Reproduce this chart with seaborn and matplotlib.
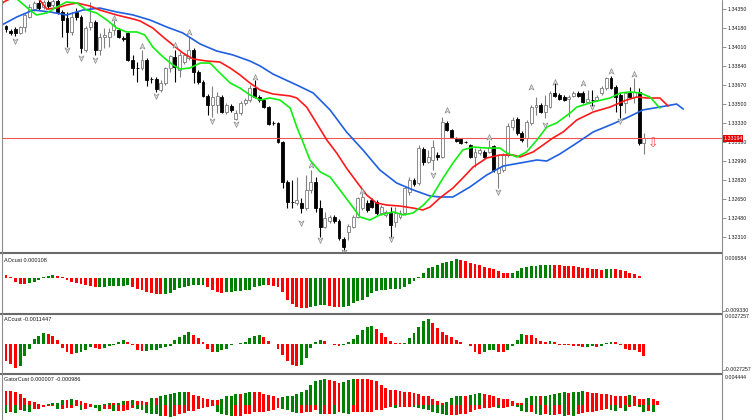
import numpy as np
import matplotlib
matplotlib.use("Agg")
import matplotlib.pyplot as plt
import matplotlib.transforms as mtransforms
from matplotlib.lines import Line2D
from matplotlib.path import Path
import seaborn as sns

sns.set_style("white")
plt.rcParams['font.family'] = ['Liberation Sans', 'DejaVu Sans']

# ---------------- price candles (bar index 0..136) ----------------
open_ = [
1.34197, 1.34153, 1.34170, 1.34135, 1.34188, 1.34278, 1.34349, 1.34403, 1.34367, 1.34412,
1.34385, 1.34421, 1.34323, 1.34269, 1.34144, 1.34323, 1.34278, 1.33983, 1.34188, 1.34233,
1.33983, 1.34099, 1.34099, 1.34162, 1.34162, 1.34090, 1.34135, 1.33893, 1.33821, 1.33821,
1.33893, 1.33723, 1.33723, 1.33624, 1.33687, 1.33821, 1.33920, 1.33804, 1.33875, 1.33911,
1.33983, 1.33786, 1.33696, 1.33571, 1.33490, 1.33490, 1.33562, 1.33428, 1.33481, 1.33365,
1.33419, 1.33508, 1.33535, 1.33642, 1.33562, 1.33535, 1.33472, 1.33329, 1.33329, 1.33159,
1.32801, 1.32622, 1.32613, 1.32613, 1.32568, 1.32730, 1.32801, 1.32568, 1.32398, 1.32452,
1.32488, 1.32452, 1.32291, 1.32354, 1.32398, 1.32488, 1.32568, 1.32613, 1.32640, 1.32622,
1.32524, 1.32506, 1.32524, 1.32443, 1.32488, 1.32524, 1.32712, 1.32819, 1.32792, 1.33096,
1.32980, 1.32998, 1.33043, 1.33025, 1.33329, 1.33267, 1.33186, 1.33186, 1.33159, 1.33132,
1.33025, 1.33061, 1.33070, 1.33070, 1.33123, 1.32882, 1.32909, 1.33043, 1.33293, 1.33365,
1.33240, 1.33195, 1.33329, 1.33472, 1.33490, 1.33428, 1.33472, 1.33598, 1.33580, 1.33562,
1.33544, 1.33571, 1.33598, 1.33598, 1.33517, 1.33535, 1.33535, 1.33598, 1.33642, 1.33732,
1.33651, 1.33580, 1.33508, 1.33598, 1.33562, 1.33607, 1.33150]
high = [
1.34206, 1.34170, 1.34188, 1.34197, 1.34314, 1.34394, 1.34421, 1.34430, 1.34430, 1.34430,
1.34448, 1.34448, 1.34340, 1.34323, 1.34323, 1.34358, 1.34296, 1.34197, 1.34412, 1.34251,
1.34135, 1.34179, 1.34179, 1.34251, 1.34179, 1.34108, 1.34144, 1.33938, 1.33875, 1.33983,
1.33911, 1.33741, 1.33741, 1.33714, 1.33830, 1.33938, 1.33983, 1.33965, 1.33956, 1.34099,
1.34000, 1.33804, 1.33714, 1.33589, 1.33660, 1.33607, 1.33580, 1.33508, 1.33499, 1.33446,
1.33526, 1.33553, 1.33669, 1.33714, 1.33580, 1.33544, 1.33481, 1.33347, 1.33338, 1.33168,
1.32819, 1.32819, 1.32846, 1.32658, 1.32864, 1.32909, 1.32846, 1.32640, 1.32533, 1.32506,
1.32506, 1.32470, 1.32309, 1.32425, 1.32506, 1.32667, 1.32703, 1.32640, 1.32658, 1.32640,
1.32595, 1.32551, 1.32577, 1.32577, 1.32551, 1.32765, 1.32846, 1.32837, 1.33132, 1.33114,
1.33088, 1.33177, 1.33070, 1.33383, 1.33347, 1.33275, 1.33204, 1.33195, 1.33168, 1.33141,
1.33105, 1.33105, 1.33088, 1.33177, 1.33132, 1.33043, 1.33061, 1.33329, 1.33383, 1.33383,
1.33258, 1.33356, 1.33490, 1.33562, 1.33508, 1.33580, 1.33616, 1.33696, 1.33598, 1.33580,
1.33580, 1.33616, 1.33616, 1.33616, 1.33624, 1.33624, 1.33580, 1.33660, 1.33741, 1.33750,
1.33669, 1.33598, 1.33607, 1.33651, 1.33732, 1.33642, 1.33240]
low = [
1.34144, 1.34117, 1.34108, 1.34126, 1.34144, 1.34269, 1.34332, 1.34340, 1.34349, 1.34349,
1.34367, 1.34305, 1.34099, 1.34009, 1.34117, 1.34251, 1.33956, 1.33965, 1.34162, 1.33938,
1.33938, 1.34000, 1.34009, 1.34117, 1.34090, 1.34063, 1.33884, 1.33759, 1.33696, 1.33804,
1.33660, 1.33687, 1.33607, 1.33607, 1.33669, 1.33786, 1.33696, 1.33741, 1.33857, 1.33893,
1.33687, 1.33678, 1.33562, 1.33401, 1.33383, 1.33419, 1.33419, 1.33410, 1.33428, 1.33356,
1.33401, 1.33490, 1.33517, 1.33553, 1.33517, 1.33463, 1.33311, 1.33311, 1.33150, 1.32747,
1.32568, 1.32568, 1.32595, 1.32524, 1.32551, 1.32703, 1.32533, 1.32309, 1.32389, 1.32434,
1.32434, 1.32282, 1.32193, 1.32282, 1.32389, 1.32479, 1.32551, 1.32533, 1.32568, 1.32506,
1.32506, 1.32488, 1.32309, 1.32398, 1.32470, 1.32506, 1.32685, 1.32765, 1.32774, 1.32953,
1.32971, 1.32909, 1.32998, 1.33016, 1.33258, 1.33195, 1.33159, 1.33141, 1.33150, 1.33016,
1.32935, 1.33043, 1.33016, 1.33061, 1.32891, 1.32747, 1.32891, 1.33025, 1.33267, 1.33222,
1.33159, 1.33114, 1.33311, 1.33401, 1.33419, 1.33374, 1.33463, 1.33562, 1.33535, 1.33526,
1.33383, 1.33562, 1.33562, 1.33508, 1.33508, 1.33463, 1.33526, 1.33580, 1.33624, 1.33633,
1.33428, 1.33374, 1.33419, 1.33553, 1.33508, 1.33132, 1.33052]
close = [
1.34170, 1.34135, 1.34135, 1.34188, 1.34296, 1.34367, 1.34403, 1.34358, 1.34412, 1.34376,
1.34421, 1.34323, 1.34251, 1.34144, 1.34278, 1.34278, 1.34000, 1.34179, 1.34233, 1.33983,
1.34099, 1.34117, 1.34144, 1.34206, 1.34099, 1.34081, 1.33893, 1.33821, 1.33817, 1.33893,
1.33714, 1.33719, 1.33633, 1.33687, 1.33821, 1.33929, 1.33830, 1.33938, 1.33938, 1.33983,
1.33786, 1.33696, 1.33571, 1.33490, 1.33562, 1.33571, 1.33428, 1.33490, 1.33446, 1.33419,
1.33508, 1.33535, 1.33642, 1.33562, 1.33535, 1.33472, 1.33320, 1.33325, 1.33159, 1.32801,
1.32622, 1.32618, 1.32640, 1.32568, 1.32730, 1.32801, 1.32568, 1.32398, 1.32479, 1.32488,
1.32452, 1.32300, 1.32219, 1.32407, 1.32488, 1.32658, 1.32667, 1.32551, 1.32577, 1.32524,
1.32577, 1.32533, 1.32416, 1.32524, 1.32524, 1.32747, 1.32819, 1.32783, 1.33105, 1.32980,
1.33025, 1.33114, 1.33025, 1.33338, 1.33267, 1.33204, 1.33168, 1.33150, 1.33155, 1.33025,
1.33070, 1.33088, 1.33025, 1.33114, 1.32909, 1.32926, 1.33043, 1.33302, 1.33356, 1.33240,
1.33177, 1.33338, 1.33472, 1.33490, 1.33428, 1.33490, 1.33598, 1.33571, 1.33544, 1.33535,
1.33562, 1.33598, 1.33571, 1.33517, 1.33544, 1.33531, 1.33562, 1.33642, 1.33732, 1.33642,
1.33562, 1.33490, 1.33598, 1.33562, 1.33607, 1.33150, 1.33194]

bid_price = 1.33194
price_ticks = [1.34350, 1.34180, 1.34010, 1.33840, 1.33670, 1.33500, 1.33330,
               1.33160, 1.32990, 1.32820, 1.32650, 1.32480, 1.32310]

# ---------------- Alligator lines (bar index, price) ----------------
jaw_x = [-0.9, 2.3, 5.8, 9.4, 12.9, 16.4, 20.0, 23.6, 27.1, 30.7, 34.3, 37.7, 41.4, 44.9, 48.4,
         52.0, 54.2, 56.9, 60.6, 62.0, 65.5, 69.1, 72.6, 76.1, 79.7, 83.3, 86.8, 90.4, 92.5, 95.3,
         98.9, 102.5, 106.0, 109.6, 113.2, 115.3, 118.1, 121.7, 125.2, 128.8, 132.3, 135.8, 139.4,
         143.0, 144.4]
jaw_y = [1.34206, 1.34278, 1.34340, 1.34323, 1.34296, 1.34340, 1.34358, 1.34323, 1.34296, 1.34251,
         1.34188, 1.34135, 1.34036, 1.33974, 1.33938, 1.33884, 1.33839, 1.33768, 1.33696, 1.33669,
         1.33598, 1.33446, 1.33249, 1.33088, 1.32909, 1.32792, 1.32730, 1.32676, 1.32667, 1.32667,
         1.32756, 1.32864, 1.32944, 1.32971, 1.32998, 1.32989, 1.33052, 1.33150, 1.33249, 1.33311,
         1.33374, 1.33446, 1.33472, 1.33499, 1.33454]
teeth_x = [-0.9, -0.5, 3.0, 5.5, 7.2, 8.7, 10.8, 12.9, 15.1, 17.9, 20.0, 23.6, 27.1, 28.6, 31.3,
           33.5, 35.6, 37.7, 39.9, 42.8, 45.6, 47.8, 49.9, 52.0, 54.2, 56.9, 60.6, 62.0, 64.1, 66.2,
           68.4, 70.5, 72.6, 74.8, 76.9, 79.0, 81.2, 84.0, 86.8, 88.9, 90.4, 92.5, 95.3, 97.4, 99.6,
           102.5, 105.3, 108.1, 109.6, 112.4, 114.5, 116.6, 118.8, 121.7, 125.2, 128.8, 132.3, 134.5,
           136.6, 139.4, 141.2]
teeth_y = [1.34394, 1.34412, 1.34484, 1.34484, 1.34430, 1.34349, 1.34358, 1.34385, 1.34403, 1.34376,
           1.34340, 1.34296, 1.34260, 1.34242, 1.34179, 1.34099, 1.34027, 1.33956, 1.33902, 1.33884,
           1.33875, 1.33821, 1.33759, 1.33687, 1.33624, 1.33589, 1.33571, 1.33553, 1.33472, 1.33329,
           1.33177, 1.33061, 1.32926, 1.32801, 1.32685, 1.32613, 1.32595, 1.32586, 1.32568, 1.32551,
           1.32577, 1.32658, 1.32747, 1.32837, 1.32935, 1.33016, 1.33043, 1.33043, 1.33025, 1.33070,
           1.33132, 1.33195, 1.33249, 1.33356, 1.33428, 1.33472, 1.33535, 1.33562, 1.33553, 1.33553,
           1.33481]
lips_x = [-0.6, 0.9, 2.6, 5.1, 6.5, 8.7, 10.8, 12.9, 15.1, 17.2, 19.3, 21.5, 23.6, 25.7, 27.9,
          29.6, 31.3, 33.5, 35.6, 37.1, 39.2, 41.4, 43.5, 45.6, 47.8, 49.9, 52.0, 54.2, 56.3, 58.4,
          60.6, 62.0, 63.4, 64.8, 67.0, 69.1, 71.2, 73.3, 75.5, 77.6, 79.7, 82.6, 84.7, 86.8, 89.0,
          91.0, 93.2, 95.3, 97.4, 99.6, 102.5, 105.3, 106.8, 108.9, 111.0, 113.2, 115.3, 117.4, 120.3,
          121.7, 125.2, 128.8, 131.0, 133.0, 135.2, 137.3, 139.4]
lips_y = [1.34537, 1.34484, 1.34430, 1.34340, 1.34296, 1.34314, 1.34367, 1.34412, 1.34403, 1.34340,
          1.34314, 1.34251, 1.34179, 1.34144, 1.34144, 1.34117, 1.34009, 1.33920, 1.33848, 1.33812,
          1.33821, 1.33866, 1.33866, 1.33777, 1.33687, 1.33642, 1.33580, 1.33535, 1.33553, 1.33535,
          1.33463, 1.33293, 1.33150, 1.32998, 1.32891, 1.32846, 1.32730, 1.32613, 1.32488, 1.32461,
          1.32506, 1.32533, 1.32506, 1.32524, 1.32595, 1.32685, 1.32837, 1.32971, 1.33088, 1.33114,
          1.33105, 1.33105, 1.33061, 1.33025, 1.33070, 1.33177, 1.33293, 1.33329, 1.33419, 1.33472,
          1.33517, 1.33553, 1.33598, 1.33607, 1.33598, 1.33562, 1.33463]

# ---------------- fractals ----------------
frac_up_idx = [23, 29, 36, 39, 53, 65, 76, 94, 103, 112, 117, 123, 129, 134]
frac_up_px = [1.34269, 1.34018, 1.34027, 1.34144, 1.33741, 1.32953, 1.32721, 1.33446, 1.33204,
              1.33651, 1.33696, 1.33687, 1.33795, 1.33768]
frac_dn_idx = [2, 13, 16, 19, 32, 44, 49, 63, 67, 72, 82, 91, 105, 115, 125, 131]
frac_dn_px = [1.34063, 1.33983, 1.33911, 1.33893, 1.33571, 1.33347, 1.33320, 1.32434, 1.32282,
              1.32175, 1.32291, 1.32864, 1.32712, 1.33311, 1.33472, 1.33347]
signal_idx = 138
signal_px = 1.33141

# ---------------- oscillators (bar index -1..136) ----------------
ao = [0.00279, 0.00093, 0.00047, -0.00093, -0.00140, -0.00149, -0.00121, -0.00093, -0.00028, 0.00047,
      0.00065, 0.00093, 0.00074, 0.00047, -0.00047, -0.00093, -0.00112, -0.00140, -0.00167, -0.00195,
      -0.00242, -0.00233, -0.00223, -0.00214, -0.00209, -0.00205, -0.00195, -0.00191, -0.00233, -0.00279,
      -0.00326, -0.00372, -0.00400, -0.00419, -0.00428, -0.00419, -0.00400, -0.00326, -0.00260, -0.00223,
      -0.00195, -0.00186, -0.00181, -0.00177, -0.00233, -0.00307, -0.00363, -0.00400, -0.00372, -0.00363,
      -0.00344, -0.00330, -0.00321, -0.00307, -0.00233, -0.00214, -0.00186, -0.00191, -0.00214, -0.00233,
      -0.00372, -0.00586, -0.00698, -0.00791, -0.00809, -0.00814, -0.00772, -0.00744, -0.00739, -0.00735,
      -0.00763, -0.00772, -0.00791, -0.00781, -0.00744, -0.00679, -0.00623, -0.00586, -0.00512, -0.00400,
      -0.00344, -0.00326, -0.00307, -0.00298, -0.00288, -0.00279, -0.00233, -0.00140, -0.00065, 0.00047,
      0.00158, 0.00279, 0.00326, 0.00372, 0.00419, 0.00465, 0.00493, 0.00530, 0.00512, 0.00474,
      0.00437, 0.00400, 0.00363, 0.00326, 0.00288, 0.00251, 0.00195, 0.00158, 0.00140, 0.00158,
      0.00214, 0.00279, 0.00307, 0.00344, 0.00353, 0.00363, 0.00372, 0.00377, 0.00372, 0.00363,
      0.00353, 0.00344, 0.00339, 0.00307, 0.00298, 0.00279, 0.00260, 0.00251, 0.00246, 0.00260,
      0.00265, 0.00251, 0.00233, 0.00205, 0.00158, 0.00121, 0.00074, 0.00011]
ac = [-0.00134, -0.00160, -0.00191, -0.00230, -0.00207, -0.00121, -0.00048, 0.00038, 0.00070, 0.00096,
      0.00089, 0.00070, 0.00032, -0.00038, -0.00080, -0.00102, -0.00089, -0.00080, -0.00064, -0.00032,
      -0.00038, -0.00048, -0.00038, -0.00026, -0.00010, 0.00016, 0.00032, 0.00016, -0.00016, -0.00057,
      -0.00070, -0.00067, -0.00064, -0.00057, -0.00038, -0.00032, -0.00026, 0.00032, 0.00057, 0.00080,
      0.00112, 0.00080, 0.00048, 0.00016, -0.00048, -0.00080, -0.00077, -0.00064, -0.00048, -0.00016,
      -0.00006, 0.00006, 0.00016, 0.00048, 0.00070, 0.00080, 0.00057, 0.00026, -0.00006, -0.00048,
      -0.00112, -0.00160, -0.00198, -0.00211, -0.00204, -0.00134, -0.00038, 0.00016, 0.00032, 0.00026,
      0.0, -0.00016, -0.00026, -0.00016, 0.00016, 0.00038, 0.00080, 0.00128, 0.00153, 0.00160,
      0.00134, 0.00102, 0.00057, 0.00026, 0.00006, 0.00002, 0.00006, 0.00048, 0.00096, 0.00153,
      0.00207, 0.00230, 0.00191, 0.00144, 0.00112, 0.00080, 0.00057, 0.00032, 0.00016, -0.00006,
      -0.00026, -0.00080, -0.00096, -0.00080, -0.00064, -0.00061, -0.00080, -0.00083, -0.00057, -0.00022,
      0.00032, 0.00086, 0.00080, 0.00077, 0.00048, 0.00026, 0.00010, 0.00019, 0.00010, -0.00010,
      -0.00016, -0.00018, -0.00019, -0.00026, -0.00032, -0.00029, -0.00027, -0.00032, -0.00022, 0.00006,
      0.00013, 0.00010, -0.00010, -0.00048, -0.00057, -0.00064, -0.00080, -0.00114]
# gator (bar index -1..140): upper |jaw-teeth|, lower |teeth-lips|
gator_up = [
0.00217, 0.00207, 0.00207, 0.00193, 0.00158, 0.00109, 0.00059, 0.00044, 0.00015, 0.00005, 0.00010,
0.00025, 0.00035, 0.00074, 0.00074, 0.00084, 0.00074, 0.00059, 0.00025, 0.00010, 0.00002,
0.00005, 0.00010, 0.00025, 0.00025, 0.00030, 0.00059, 0.00059, 0.00074, 0.00059, 0.00059,
0.00049, 0.00109, 0.00109, 0.00133, 0.00148, 0.00158, 0.00173, 0.00183, 0.00193, 0.00183,
0.00143, 0.00124, 0.00109, 0.00094, 0.00074, 0.00069, 0.00084, 0.00124, 0.00133, 0.00158,
0.00158, 0.00168, 0.00183, 0.00183, 0.00183, 0.00163, 0.00148, 0.00124, 0.00109, 0.00114,
0.00124, 0.00138, 0.00158, 0.00183, 0.00222, 0.00296, 0.00346, 0.00371, 0.00380, 0.00371,
0.00346, 0.00321, 0.00336, 0.00371, 0.00380, 0.00380, 0.00380, 0.00380, 0.00371, 0.00346,
0.00296, 0.00247, 0.00222, 0.00212, 0.00198, 0.00183, 0.00183, 0.00173, 0.00163, 0.00138,
0.00124, 0.00089, 0.00059, 0.00035, 0.00049, 0.00099, 0.00124, 0.00133, 0.00124, 0.00148,
0.00163, 0.00173, 0.00158, 0.00148, 0.00138, 0.00109, 0.00089, 0.00089, 0.00064, 0.00035,
0.00025, 0.00099, 0.00124, 0.00133, 0.00124, 0.00138, 0.00148, 0.00163, 0.00173, 0.00183,
0.00173, 0.00183, 0.00188, 0.00198, 0.00183, 0.00173, 0.00173, 0.00163, 0.00158, 0.00148,
0.00138, 0.00138, 0.00138, 0.00148, 0.00124, 0.00084, 0.00084, 0.00099, 0.00089, 0.00059, 0.000007]
gator_dn = [
0.00109, 0.00114, 0.00104, 0.00114, 0.00074, 0.00089, 0.00099, 0.00064, 0.00059, 0.00025, 0.00015,
0.00010, 0.00064, 0.00054, 0.00040, 0.00040, 0.00015, 0.00074, 0.00054, 0.00030, 0.00040,
0.00089, 0.00064, 0.00064, 0.00089, 0.00089, 0.00089, 0.00074, 0.00049, 0.00064, 0.00079,
0.00114, 0.00128, 0.00138, 0.00163, 0.00163, 0.00178, 0.00163, 0.00138, 0.00114, 0.00089,
0.00089, 0.00064, 0.00040, 0.00025, 0.00015, 0.00099, 0.00124, 0.00148, 0.00153, 0.00153,
0.00153, 0.00138, 0.00138, 0.00099, 0.00099, 0.00099, 0.00089, 0.00074, 0.00049, 0.00059,
0.00074, 0.00099, 0.00114, 0.00114, 0.00099, 0.00099, 0.00074, 0.00124, 0.00124, 0.00124,
0.00133, 0.00099, 0.00114, 0.00124, 0.00109, 0.00099, 0.00099, 0.00099, 0.00099, 0.00074,
0.00074, 0.00049, 0.00035, 0.00049, 0.00035, 0.00025, 0.00025, 0.00035, 0.00049, 0.00064,
0.00074, 0.00099, 0.00114, 0.00133, 0.00148, 0.00148, 0.00148, 0.00124, 0.00124, 0.00099,
0.00074, 0.00064, 0.00049, 0.00049, 0.00025, 0.00049, 0.00040, 0.00025, 0.00015, 0.00025,
0.00084, 0.00099, 0.00099, 0.00124, 0.00148, 0.00124, 0.00148, 0.00148, 0.00124, 0.00163,
0.00148, 0.00158, 0.00124, 0.00114, 0.00099, 0.00099, 0.00089, 0.00074, 0.00064, 0.00074,
0.00089, 0.00049, 0.00084, 0.00025, 0.00015, 0.00025, 0.00099, 0.00089, 0.00099, 0.0, 0.0]

ao_label = "AOcust 0.000108"
ac_label = "ACcust -0.0011447"
gator_label = "GatorCust 0.000007 -0.000986"
ao_range = (-0.009330, 0.006584)
ac_range = (-0.0027257, 0.0027257)
gator_top = 0.004444

# ---------------- figure ----------------
W, H = 752, 420
fig = plt.figure(figsize=(W / 100, H / 100), dpi=100)
fig.patch.set_facecolor('white')
X_LEFT, X_RIGHT = 2, 722
BAR0, STEP = 6.0, 4.69
xlim = ((X_LEFT - BAR0) / STEP, (X_RIGHT - BAR0) / STEP)

def px_axes(top, bottom):
    a = fig.add_axes([X_LEFT / W, 1 - bottom / H, (X_RIGHT - X_LEFT) / W, (bottom - top) / H])
    a.set_facecolor('white')
    for s in a.spines.values():
        s.set_visible(False)
    a.set_xlim(*xlim)
    a.set_xticks([])
    a.set_yticks([])
    a.grid(False)
    return a

GREEN, RED = '#008000', '#ff0000'
TXT = '#1a1a1a'
FS_TICK = 3.8
FS_LAB = 4.0

# main chart
ax = px_axes(0, 253)
ax.set_ylim(1.34430 - 253 * 0.0000895, 1.34430)
o = np.array(open_); h = np.array(high); l = np.array(low); c = np.array(close)
idx = np.arange(len(c))
bull = c >= o
wick_col = np.where(bull, '#7f7f7f', '#000000')
ax.vlines(idx, l, h, colors=wick_col, linewidth=0.8, zorder=2)
body_lo = np.minimum(o, c)
body_h = np.maximum(np.abs(c - o), 0.00002)
ax.bar(idx, body_h, bottom=body_lo, width=0.62,
       color=np.where(bull, '#ffffff', '#000000'),
       edgecolor=np.where(bull, '#7a7a7a', '#000000'), linewidth=0.6, zorder=3)

ax.axhline(bid_price, color='#ee5555', linewidth=0.8, zorder=4)

sns.lineplot(x=jaw_x, y=jaw_y, ax=ax, color='#1f5fe0', linewidth=1.2, sort=False,
             estimator=None, zorder=5)
sns.lineplot(x=teeth_x, y=teeth_y, ax=ax, color='#ff1a1a', linewidth=1.2, sort=False,
             estimator=None, zorder=5)
sns.lineplot(x=lips_x, y=lips_y, ax=ax, color='#11ee11', linewidth=1.2, sort=False,
             estimator=None, zorder=6)

up_arrow = Path([(0, 1), (0.85, -0.9), (0, -0.35), (-0.85, -0.9), (0, 1)],
                [Path.MOVETO, Path.LINETO, Path.LINETO, Path.LINETO, Path.CLOSEPOLY])
dn_arrow = Path([(0, -1), (0.85, 0.9), (0, 0.35), (-0.85, 0.9), (0, -1)],
                [Path.MOVETO, Path.LINETO, Path.LINETO, Path.LINETO, Path.CLOSEPOLY])
sns.scatterplot(x=frac_up_idx, y=frac_up_px, ax=ax, marker=up_arrow, s=18,
                color='#e4e4e4', edgecolor='#8c8c8c', linewidth=0.5, zorder=7)
sns.scatterplot(x=frac_dn_idx, y=frac_dn_px, ax=ax, marker=dn_arrow, s=18,
                color='#e4e4e4', edgecolor='#8c8c8c', linewidth=0.5, zorder=7)
ax.text(signal_idx, signal_px, '\u21e9', color='#ff4a4a', fontsize=9, ha='center',
        va='center', family=['DejaVu Sans'], zorder=8)

ax.yaxis.tick_right()
ax.set_yticks(price_ticks)
ax.set_yticklabels([f"{v:.5f}" for v in price_ticks])
ax.tick_params(axis='y', which='both', right=True, length=3, width=0.6, color='#808080',
               labelsize=FS_TICK, pad=1.2, labelcolor=TXT)
ax.get_legend() and ax.get_legend().remove()

trans = mtransforms.blended_transform_factory(ax.transAxes, ax.transData)
ax.text(1.0015, bid_price, f"{bid_price:.5f}", transform=trans, ha='left', va='center',
        fontsize=FS_TICK, color='white', clip_on=False, zorder=10,
        bbox=dict(boxstyle='square,pad=0.18', fc='#e00000', ec='none'))

# oscillators
def up_down_colors(vals):
    cols = [RED]
    for a, b in zip(vals[:-1], vals[1:]):
        cols.append(GREEN if b > a else RED)
    return cols

osc_idx = np.arange(-1, len(ao) - 1)
ax_ao = px_axes(254.5, 312.5)
ax_ao.set_ylim(*ao_range)
ax_ao.bar(osc_idx, ao, width=0.62, color=up_down_colors(ao), linewidth=0)

ax_ac = px_axes(314.5, 372.5)
ax_ac.set_ylim(*ac_range)
ax_ac.bar(osc_idx, ac, width=0.62, color=up_down_colors(ac), linewidth=0)

g_idx = np.arange(-1, len(gator_up) - 1)
ax_g = px_axes(374.5, 417)
ax_g.set_ylim(-12 * gator_top / 30.5, gator_top)
ax_g.bar(g_idx, gator_up, width=0.62, color=up_down_colors(gator_up), linewidth=0)
ax_g.bar(g_idx, -np.array(gator_dn), width=0.62, color=up_down_colors(gator_dn), linewidth=0)

# labels
fig.text(4 / W, 1 - 260 / H, ao_label, fontsize=FS_LAB, color=TXT, ha='left', va='center')
fig.text(4 / W, 1 - 319.5 / H, ac_label, fontsize=FS_LAB, color=TXT, ha='left', va='center')
fig.text(4 / W, 1 - 379.5 / H, gator_label, fontsize=FS_LAB, color=TXT, ha='left', va='center')

right_labels = [(f"{ao_range[1]:.6f}", 258.5), (f"{ao_range[0]:.6f}", 310.5),
                (f"{ac_range[1]:.7f}", 316.8), (f"{ac_range[0]:.7f}", 369.5),
                (f"{gator_top:.6f}", 377.5)]
for txt, ypx in right_labels:
    fig.text(725 / W, 1 - ypx / H, txt, fontsize=FS_TICK, color=TXT, ha='left', va='center')
for ypx in [310.5, 369.5]:
    fig.add_artist(Line2D([X_RIGHT / W, (X_RIGHT + 3) / W], [1 - ypx / H] * 2,
                          color='#808080', linewidth=0.6))

# frame lines
for ypx in [253.5, 313.5, 373.5]:
    fig.add_artist(Line2D([0, X_RIGHT / W], [1 - ypx / H] * 2, color='#6a6a6a', linewidth=1.5))
fig.add_artist(Line2D([X_RIGHT / W] * 2, [0, 1], color='#8c8c8c', linewidth=0.8))
fig.add_artist(Line2D([1.7 / W] * 2, [0, 1], color='#8c8c8c', linewidth=0.8))

fig.savefig('out.png', dpi=100, facecolor='white')
